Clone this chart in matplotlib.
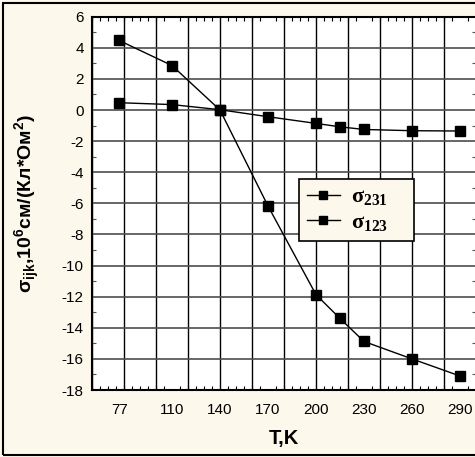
import matplotlib
matplotlib.use("Agg")
import matplotlib.pyplot as plt
from matplotlib.ticker import MultipleLocator, FixedLocator
from matplotlib.patches import Rectangle

plt.rcParams['font.family'] = ['Liberation Sans', 'DejaVu Sans']
plt.rcParams['axes.unicode_minus'] = False
plt.rcParams['mathtext.fontset'] = 'custom'
plt.rcParams['mathtext.rm'] = 'Liberation Serif:bold'
plt.rcParams['mathtext.bf'] = 'Liberation Sans:bold'

# data
T = [77, 110, 140, 170, 200, 215, 230, 260, 290]
sigma_231 = [0.47, 0.35, 0.02, -0.43, -0.86, -1.08, -1.25, -1.33, -1.35]
sigma_123 = [4.47, 2.86, 0.0, -6.17, -11.87, -13.4, -14.88, -16.0, -17.1]
x_ticks = [77, 110, 140, 170, 200, 230, 260, 290]
x_grid = list(range(60, 301, 20))
y_ticks = list(range(-18, 7, 2))

cream = '#fdf8ec'

fig = plt.figure(figsize=(4.75, 4.57), dpi=100)
fig.patch.set_facecolor(cream)
# frame around the whole figure
fig.patches.append(Rectangle((3 / 475, 2 / 457), 1.0, 452 / 457, transform=fig.transFigure,
                             fill=False, edgecolor='black', linewidth=1.5))

ax = fig.add_axes([92 / 475, 67 / 457, 384 / 475, 373.3 / 457])
ax.set_facecolor('white')

# grid
for gx in x_grid:
    ax.axvline(gx, color='black', linewidth=1.0, zorder=1)
for gy in y_ticks:
    ax.axhline(gy, color='#4d4d4d', linewidth=1.2, zorder=1)

ax.plot(T, sigma_231, color='black', linewidth=1.0, marker='s', markersize=7,
        label='σ$_{231}$    ', zorder=3)
ax.plot(T, sigma_123, color='black', linewidth=1.0, marker='s', markersize=7,
        label='σ$_{123}$    ', zorder=3)

ax.set_xlim(60, 300)
ax.set_ylim(-18, 6)

ax.xaxis.set_major_locator(FixedLocator(x_ticks))
ax.xaxis.set_minor_locator(MultipleLocator(5))
ax.yaxis.set_major_locator(FixedLocator(y_ticks))
ax.yaxis.set_minor_locator(MultipleLocator(1))

ax.tick_params(axis='x', which='major', length=0, pad=9, labelsize=11)
ax.tick_params(axis='x', which='minor', direction='in', length=3, top=True, bottom=True, width=0.8)
ax.tick_params(axis='y', which='major', length=0, pad=6, labelsize=11)
ax.tick_params(axis='y', which='minor', direction='in', length=3, left=True, right=True,
               width=0.8, color='#555555')

for side in ['left', 'bottom', 'top']:
    ax.spines[side].set_linewidth(1.5)
ax.spines['right'].set_visible(False)

ax.set_xlabel('T,K', fontsize=14.5, fontweight='bold')
ax.xaxis.set_label_coords(0.5, -0.105)
ax.set_ylabel(r'σ$_{\mathbf{ijk}}$,10$^{\mathbf{6}}$см/(Кл*Ом$^{\mathbf{2}}$)',
              fontsize=14, fontweight='bold')
ax.yaxis.set_label_coords(-0.13, 0.5)

leg = ax.legend(loc='upper left', bbox_to_anchor=(0.539, 0.565), borderaxespad=0,
                fancybox=False, facecolor=cream, edgecolor='black', framealpha=1,
                handlelength=1.5, handletextpad=0.5, labelspacing=0.2, borderpad=0.35,
                markerscale=0.8,
                prop={'family': 'Liberation Serif', 'weight': 'bold', 'size': 16})
leg.get_frame().set_linewidth(1.2)

fig.savefig('out.png', dpi=100, facecolor=fig.get_facecolor())
